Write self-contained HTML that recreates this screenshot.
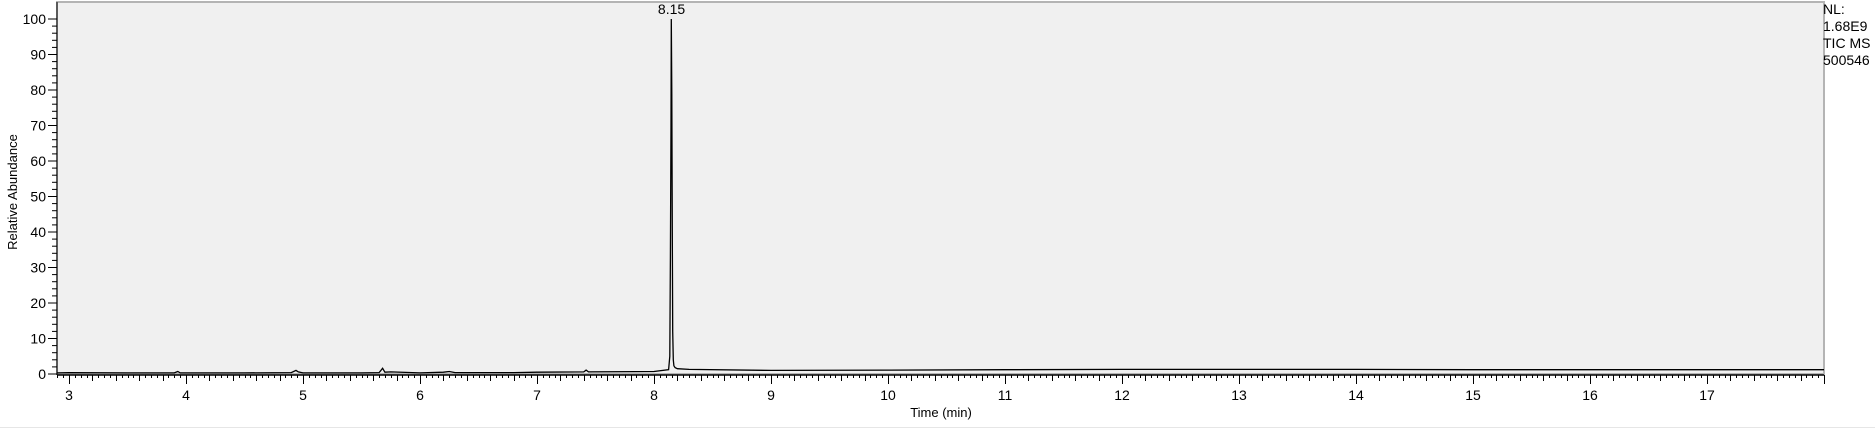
<!DOCTYPE html>
<html><head><meta charset="utf-8"><style>
body{margin:0;background:#fff;width:1875px;height:428px;overflow:hidden;font-family:"Liberation Sans",sans-serif}
svg text{font-family:"Liberation Sans",sans-serif}
</style></head><body>
<svg id="c" width="1875" height="428"></svg>
<script>
const xTicks=[3,4,5,6,7,8,9,10,11,12,13,14,15,16,17];
const yTicks=[0,10,20,30,40,50,60,70,80,90,100];
const times=[2.9,3.0,3.5,3.9,3.93,3.95,4.5,4.9,4.94,4.96,5.0,5.5,5.65,5.68,5.7,5.75,6.0,6.2,6.25,6.3,6.8,7.0,7.4,7.42,7.44,8.0,8.125,8.135,8.14,8.145,8.148,8.152,8.156,8.16,8.165,8.17,8.18,8.2,8.3,9.0,10.0,11.0,12.0,13.0,14.0,15.0,16.0,17.0,18.0];
const values=[0.3,0.4,0.3,0.3,0.7,0.3,0.3,0.4,1.0,0.6,0.3,0.3,0.4,1.6,0.5,0.6,0.3,0.5,0.7,0.4,0.4,0.5,0.6,1.1,0.6,0.7,1.2,5,33,70,100,79,40,12,4,2.3,1.8,1.5,1.3,1.0,1.1,1.2,1.3,1.3,1.3,1.2,1.2,1.2,1.2];
const peakLabel={t:8.15,text:"8.15"};
const X0=57,X1=1824,Y0=374,Y1=19,TMIN=2.9,TMAX=18.0;
const xs=t=>69+(t-3)*117;
const ys=v=>Y0-(v/100)*(Y0-Y1);
const svg=document.getElementById('c');
const NS='http://www.w3.org/2000/svg';
function mk(tag,attrs,txt){const e=document.createElementNS(NS,tag);for(const k in attrs)e.setAttribute(k,attrs[k]);if(txt!==undefined)e.textContent=txt;svg.appendChild(e);return e;}
let r=mk('rect',{x:X0,y:2,width:X1-X0,height:Y0-2,fill:'#f0f0f0',stroke:'#b4b4b4','stroke-width':2});


for(let v=0;v<=100;v+=2){const y=ys(v);const major=v%10===0;
 let l=mk('line',{x1:major?48:52,x2:X0,y1:y,y2:y,stroke:'#000','stroke-width':1});
 
 }
yTicks.forEach(v=>{let t=mk('text',{x:46,y:ys(v)+5,'text-anchor':'end','font-size':14,fill:'#000'},String(v));
 
 });
let ax=mk('line',{x1:X0,x2:X0,y1:2,y2:Y0+1,stroke:'#000','stroke-width':1});


let bx=mk('line',{x1:X0,x2:X1,y1:Y0+1,y2:Y0+1,stroke:'#000','stroke-width':1.5});


for(let i=Math.ceil(TMIN*20);i<=Math.floor(TMAX*20);i++){const t=i/20;const x=Math.round(xs(t))+0.5;
 const major=i%20===0, med=i%4===0;
 let l=mk('line',{x1:x,x2:x,y1:Y0+1,y2:Y0+(major?10:med?7:4),stroke:'#000','stroke-width':1});
 
 }
xTicks.forEach(v=>{let t=mk('text',{x:xs(v),y:Y0+26,'text-anchor':'middle','font-size':14,fill:'#000'},String(v));
 
 });
const pts=times.map((t,i)=>xs(t).toFixed(1)+','+ys(values[i]).toFixed(1)).join(' ');
let p=mk('polyline',{points:pts,fill:'none',stroke:'#000','stroke-width':1.3});


let pl=mk('text',{x:xs(peakLabel.t),y:14,'text-anchor':'middle','font-size':14,fill:'#000'},peakLabel.text);


let xt=mk('text',{x:941,y:417,'text-anchor':'middle','font-size':13,fill:'#000'},'Time (min)');


let yt=mk('text',{x:0,y:0,'text-anchor':'middle','font-size':13,fill:'#000',transform:'translate(17,192) rotate(-90)'},'Relative Abundance');


['NL:','1.68E9','TIC  MS','500546'].forEach((s,i)=>{let t=mk('text',{x:1823,y:14+i*17,'font-size':14,fill:'#000','xml:space':'preserve'},s);
 
 });
let bl=mk('line',{x1:0,x2:1875,y1:427.5,y2:427.5,stroke:'#e6e6e6','stroke-width':1});


</script>
</body></html>
